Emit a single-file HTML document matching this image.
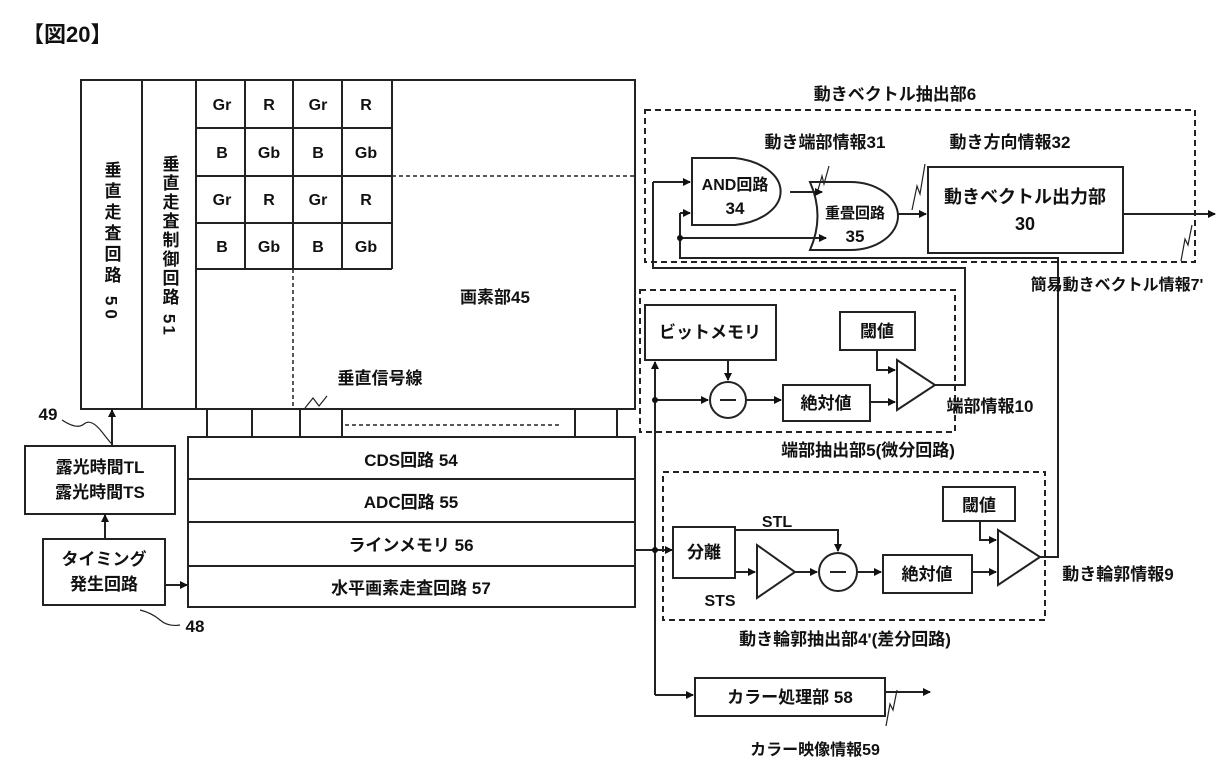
<!DOCTYPE html>
<html><head><meta charset="utf-8"><style>
body{margin:0;background:#fff}
svg{display:block}
text{font-family:"Liberation Sans","Noto Sans CJK JP",sans-serif;fill:#111;font-weight:bold}
</style></head><body>
<svg width="1226" height="765" viewBox="0 0 1226 765" xmlns="http://www.w3.org/2000/svg">
<defs><marker id="a" markerWidth="8" markerHeight="8" refX="7" refY="4" orient="auto" markerUnits="userSpaceOnUse"><path d="M0,0 L8,4 L0,8 z" fill="#111"/></marker></defs>
<g stroke="#222" stroke-width="2" fill="none">
<text x="22" y="42" font-size="22" stroke="none">【図20】</text>
<rect x="81" y="80" width="554" height="329"/>
<line x1="142" y1="80" x2="142" y2="409"/>
<line x1="196" y1="80" x2="196" y2="409"/>
<path d="M196,128H392M196,176H392M196,223H392M196,269H392M245,80V269M293,80V269M342,80V269M392,80V269"/>
<path d="M392,176H635M293,269V409M345,425H560" stroke-dasharray="4,3" stroke-width="1.5"/>
<path d="M207,409V437M252,409V437M300,409V437M342,409V437M575,409V437M617,409V437"/>
<rect x="188" y="437" width="447" height="170"/>
<path d="M188,479H635M188,522H635M188,566H635"/>
<rect x="25" y="446" width="150" height="68"/>
<rect x="43" y="539" width="122" height="66"/>
<path d="M105,539V515" marker-end="url(#a)"/>
<path d="M112,446V410" marker-end="url(#a)"/>
<path d="M165,585H187" marker-end="url(#a)"/>
<path d="M62,420q15,10 22,4t18,8 10,12" stroke-width="1.2"/>
<path d="M140,610q12,3 20,10t20,5" stroke-width="1.2"/>
<path d="M305,408l8,-10 6,8 8,-10" stroke-width="1.2"/>
<rect x="645" y="110" width="550" height="152" stroke-dasharray="6,4"/>
<path d="M692,158H735A55,34 0 0 1 735,225H692Z"/>
<path d="M810,182H850A48,34 0 0 1 850,250H810Q825,216 810,182Z"/>
<rect x="928" y="167" width="195" height="86"/>
<path d="M790,192H822" marker-end="url(#a)"/>
<path d="M898,214H926" marker-end="url(#a)"/>
<path d="M1123,214H1215" marker-end="url(#a)"/>
<path d="M653,182V268H965V385H935M653,182H690" marker-end="url(#a)"/>
<path d="M680,213H690" marker-end="url(#a)"/>
<path d="M680,213V258H1058V557H1040M680,238H826" marker-end="url(#a)"/>
<path d="M818,190l4,-14 2,8 5,-18M912,210l5,-24 3,8 5,-30M1192,225l-4,20 -3,-6 -4,22" stroke-width="1.2"/>
<rect x="640" y="290" width="315" height="142" stroke-dasharray="6,4"/>
<rect x="645" y="305" width="131" height="55"/>
<rect x="840" y="312" width="75" height="38"/>
<circle cx="728" cy="400" r="18"/>
<path d="M720,400H736" />
<rect x="783" y="385" width="87" height="36"/>
<path d="M897,360V410L935,385Z"/>
<path d="M728,360V380" marker-end="url(#a)"/>
<path d="M655,400H708" marker-end="url(#a)"/>
<path d="M746,400H781" marker-end="url(#a)"/>
<path d="M870,402H895" marker-end="url(#a)"/>
<path d="M877,350V370H895" marker-end="url(#a)"/>
<path d="M635,550H672" marker-end="url(#a)"/>
<path d="M655,695V362" marker-end="url(#a)"/>
<path d="M655,695H693" marker-end="url(#a)"/>
<rect x="663" y="472" width="382" height="148" stroke-dasharray="6,4"/>
<rect x="673" y="527" width="62" height="51"/>
<rect x="943" y="487" width="72" height="34"/>
<path d="M757,545V598L795,572Z"/>
<circle cx="838" cy="572" r="19"/>
<path d="M830,572H846"/>
<rect x="883" y="555" width="89" height="38"/>
<path d="M998,530V585L1040,557Z"/>
<path d="M735,530H838V551" marker-end="url(#a)"/>
<path d="M735,572H755" marker-end="url(#a)"/>
<path d="M795,572H817" marker-end="url(#a)"/>
<path d="M857,572H881" marker-end="url(#a)"/>
<path d="M972,572H996" marker-end="url(#a)"/>
<path d="M980,521V540H996" marker-end="url(#a)"/>
<rect x="695" y="678" width="190" height="38"/>
<path d="M885,692H930" marker-end="url(#a)"/>
<path d="M897,690l-4,20 -3,-6 -4,22" stroke-width="1.2"/>
</g>
<g fill="#111">
<circle cx="655" cy="400" r="3"/><circle cx="655" cy="550" r="3"/><circle cx="680" cy="238" r="3"/>
</g>
<g font-size="16" text-anchor="middle">
<text x="222" y="110">Gr</text><text x="269" y="110">R</text><text x="318" y="110">Gr</text><text x="366" y="110">R</text>
<text x="222" y="158">B</text><text x="269" y="158">Gb</text><text x="318" y="158">B</text><text x="366" y="158">Gb</text>
<text x="222" y="205">Gr</text><text x="269" y="205">R</text><text x="318" y="205">Gr</text><text x="366" y="205">R</text>
<text x="222" y="252">B</text><text x="269" y="252">Gb</text><text x="318" y="252">B</text><text x="366" y="252">Gb</text>
<text x="111" y="242" style="writing-mode:vertical-rl" font-size="17" letter-spacing="4">垂直走査回路 50</text>
<text x="169" y="246" style="writing-mode:vertical-rl" font-size="17" letter-spacing="2">垂直走査制御回路 51</text>
<text x="495" y="303" font-size="17">画素部45</text>
<text x="380" y="384" font-size="17">垂直信号線</text>
<text x="411" y="466" font-size="17">CDS回路 54</text>
<text x="411" y="508" font-size="17">ADC回路 55</text>
<text x="411" y="551" font-size="17">ラインメモリ 56</text>
<text x="411" y="594" font-size="17">水平画素走査回路 57</text>
<text x="100" y="473" font-size="17">露光時間TL</text>
<text x="100" y="498" font-size="17">露光時間TS</text>
<text x="104" y="565" font-size="17">タイミング</text>
<text x="104" y="590" font-size="17">発生回路</text>
<text x="48" y="420" font-size="17">49</text>
<text x="195" y="632" font-size="17">48</text>
<text x="895" y="100" font-size="17">動きベクトル抽出部6</text>
<text x="825" y="148" font-size="17">動き端部情報31</text>
<text x="1010" y="148" font-size="17">動き方向情報32</text>
<text x="735" y="190" font-size="16">AND回路</text>
<text x="735" y="214" font-size="17">34</text>
<text x="855" y="218" font-size="15">重畳回路</text>
<text x="855" y="242" font-size="17">35</text>
<text x="1025" y="203" font-size="18">動きベクトル出力部</text>
<text x="1025" y="230" font-size="18">30</text>
<text x="1117" y="290" font-size="16">簡易動きベクトル情報7'</text>
<text x="710" y="338" font-size="17">ビットメモリ</text>
<text x="877" y="337" font-size="17">閾値</text>
<text x="826" y="409" font-size="17">絶対値</text>
<text x="990" y="412" font-size="17">端部情報10</text>
<text x="868" y="456" font-size="17">端部抽出部5(微分回路)</text>
<text x="979" y="511" font-size="17">閾値</text>
<text x="704" y="558" font-size="17">分離</text>
<text x="777" y="527" font-size="16">STL</text>
<text x="720" y="606" font-size="16">STS</text>
<text x="927" y="580" font-size="17">絶対値</text>
<text x="1118" y="580" font-size="17">動き輪郭情報9</text>
<text x="845" y="645" font-size="17">動き輪郭抽出部4'(差分回路)</text>
<text x="790" y="703" font-size="17">カラー処理部 58</text>
<text x="815" y="755" font-size="16">カラー映像情報59</text>
</g>
</svg>
</body></html>
